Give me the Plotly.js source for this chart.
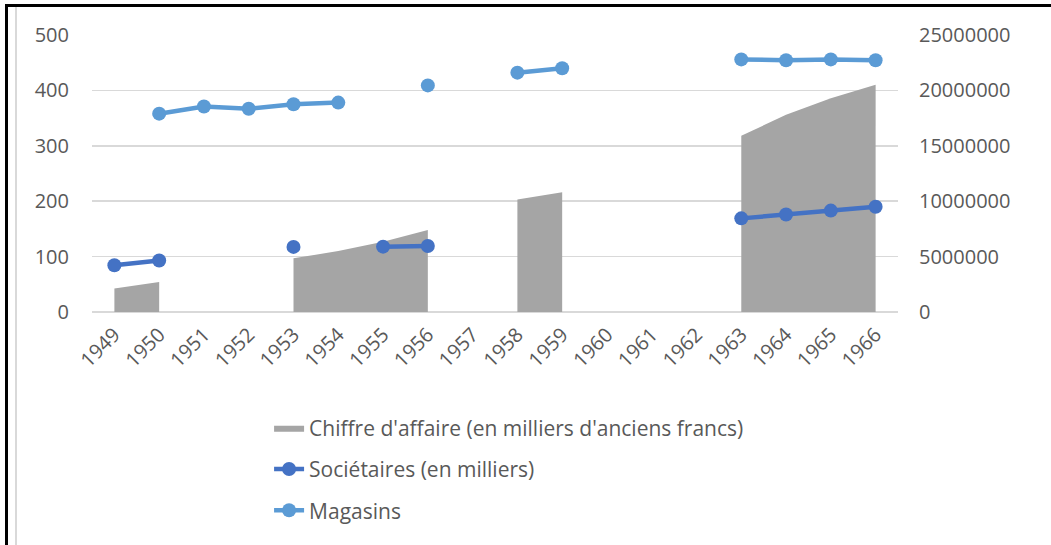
<!DOCTYPE html>
<html>
<head>
<meta charset="utf-8">
<script src="https://cdn.plot.ly/plotly-3.0.1.min.js"></script>
<style>
  html, body { margin: 0; padding: 0; background: #ffffff; }
  #wrap { position: relative; width: 1051px; height: 545px; overflow: hidden; }
  #chart { position: absolute; left: 0; top: 0; width: 1051px; height: 545px; }
  .frame { position: absolute; pointer-events: none; z-index: 10; }
</style>
</head>
<body>
<div id="wrap">
  <div id="chart"></div>
  <div class="frame" style="left:5px; top:4px; width:1046px; height:3px; background:#000;"></div>
  <div class="frame" style="left:5px; top:4px; width:3px; height:541px; background:#000;"></div>
  <div class="frame" style="left:15px; top:7px; width:2px; height:538px; background:#D9D9D9;"></div>
</div>
<script>
// ---- Data ----
var years = ['1949','1950','1951','1952','1953','1954','1955','1956','1957','1958','1959','1960','1961','1962','1963','1964','1965','1966'];
var chiffreAffaire = [2130000, 2700000, null, null, 4840000, 5500000, 6340000, 7390000, null, 10150000, 10800000, null, null, null, 15900000, 17800000, 19300000, 20500000];
var societaires = [84.5, 93, null, null, 117.5, null, 118, 119, null, null, null, null, null, null, 169, 176, 183, 190];
var magasins = [null, 358, 371, 367, 375, 378, null, 409, null, 432, 440, null, null, null, 456, 454.5, 456, 454.5];
var seriesNames = ["Chiffre d'affaire (en milliers d'anciens francs)", "Sociétaires (en milliers)", "Magasins"];
var leftTicks = [0, 100, 200, 300, 400, 500];
var rightTicks = [0, 5000000, 10000000, 15000000, 20000000, 25000000];

var fontFam = '"Open Sans", "Liberation Sans", Arial, sans-serif';
var txtCol = '#595959';

// split the area series into contiguous runs so the fill breaks at missing years
function runs(xs, ys) {
  var out = [], cur = null;
  for (var i = 0; i < ys.length; i++) {
    if (ys[i] === null) { cur = null; continue; }
    if (!cur) { cur = {x: [], y: []}; out.push(cur); }
    cur.x.push(xs[i]); cur.y.push(ys[i]);
  }
  return out;
}

var traces = [];
runs(years, chiffreAffaire).forEach(function (seg, k) {
  traces.push({
    x: seg.x, y: seg.y, name: seriesNames[0], type: 'scatter', mode: 'lines',
    fill: 'tozeroy', fillcolor: '#A5A5A5', line: {width: 0, color: '#A5A5A5'},
    yaxis: 'y', legendgroup: 'a', showlegend: k === 0
  });
});
traces.push({
  x: years, y: societaires, name: seriesNames[1], type: 'scatter', mode: 'lines+markers',
  line: {color: '#4472C4', width: 4.5}, marker: {color: '#4472C4', size: 14},
  connectgaps: false, yaxis: 'y2', legendgroup: 'b'
});
traces.push({
  x: years, y: magasins, name: seriesNames[2], type: 'scatter', mode: 'lines+markers',
  line: {color: '#5B9BD5', width: 4.5}, marker: {color: '#5B9BD5', size: 14},
  connectgaps: false, yaxis: 'y2', legendgroup: 'c'
});

var layout = {
  width: 1051, height: 545,
  paper_bgcolor: '#ffffff', plot_bgcolor: '#ffffff',
  margin: {l: 92, r: 153, t: 35, b: 233, pad: 0, autoexpand: false},
  font: {family: fontFam, color: txtCol, size: 20},
  showlegend: true,
  legend: {
    orientation: 'v',
    x: 0.2197, xanchor: 'left', y: -0.345, yanchor: 'top',
    font: {family: fontFam, size: 21, color: txtCol},
    tracegroupgap: 11, bgcolor: 'rgba(0,0,0,0)', traceorder: 'grouped'
  },
  xaxis: {
    type: 'category', categoryorder: 'array', categoryarray: years,
    range: [-0.5, years.length - 0.5], tickmode: 'linear', dtick: 1, tick0: 0,
    tickangle: -45, showgrid: false, zeroline: false,
    showline: false, ticks: '', tickfont: {size: 20, color: txtCol},
    ticklabelstandoff: 6, automargin: false
  },
  yaxis: {
    side: 'right', range: [0, 25000000], tickvals: rightTicks,
    ticktext: rightTicks.map(String),
    showgrid: true, gridcolor: '#D9D9D9', gridwidth: 1.5,
    zeroline: true, zerolinecolor: '#D9D9D9', zerolinewidth: 1.5,
    showline: false, ticks: '', tickfont: {size: 20, color: txtCol},
    ticklabelstandoff: 20, automargin: false
  },
  yaxis2: {
    side: 'left', overlaying: 'y', range: [0, 500], tickvals: leftTicks,
    ticktext: leftTicks.map(String),
    showgrid: false, zeroline: false, showline: false, ticks: '',
    tickfont: {size: 20, color: txtCol}, ticklabelstandoff: 22, automargin: false
  }
};

Plotly.newPlot('chart', traces, layout, {displayModeBar: false, staticPlot: true});
</script>
</body>
</html>
